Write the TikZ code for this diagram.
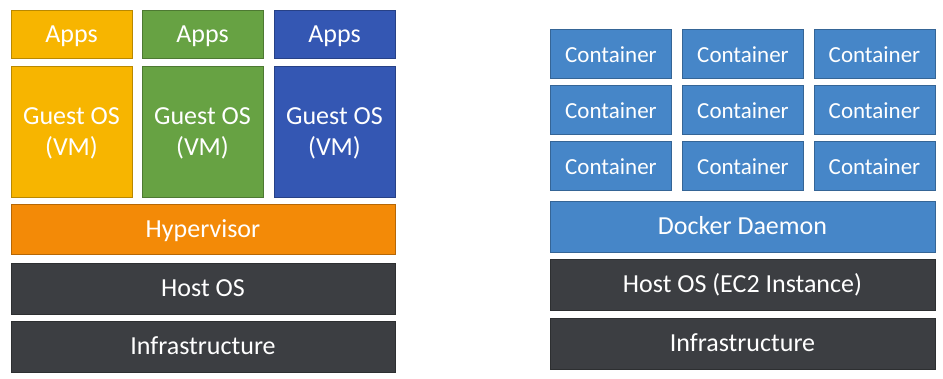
\documentclass[tikz,border=0pt]{standalone}
\usepackage{fontspec}
\setmainfont{Carlito}
\definecolor{cyellow}{HTML}{F7B500}
\definecolor{cgreen}{HTML}{67A243}
\definecolor{cblue}{HTML}{3457B3}
\definecolor{corange}{HTML}{F38A07}
\definecolor{cdark}{HTML}{3C3E42}
\definecolor{ccont}{HTML}{4686C8}
\tikzset{
  x=1pt,y=-1pt,
  blk/.style={draw=#1!75!black, line width=0.7pt, fill=#1, text=white, inner sep=0pt,
    font=\fontsize{26}{31}\selectfont, align=center, text depth=0pt},
  one/.style={text height=16.5pt},
  cont/.style={blk=ccont, one, font=\fontsize{23}{28}\selectfont},
}
\begin{document}
\begin{tikzpicture}
\useasboundingbox[fill=white] (0,0) rectangle (943,378);
% left stack
\node[blk=cyellow, one, minimum width=121, minimum height=48] (apps1) at (71.5,34) {Apps};
\node[blk=cgreen, one, minimum width=121, minimum height=48] (apps2) at (202.5,34) {Apps};
\node[blk=cblue, one, minimum width=121, minimum height=48] (apps3) at (334.5,34) {Apps};
\node[blk=cyellow, minimum width=121, minimum height=131] (vm1) at (71.5,131.5) {Guest OS\\(VM)};
\node[blk=cgreen, minimum width=121, minimum height=131] (vm2) at (202.5,131.5) {Guest OS\\(VM)};
\node[blk=cblue, minimum width=121, minimum height=131] (vm3) at (334.5,131.5) {Guest OS\\(VM)};
\node[blk=corange, one, minimum width=384, minimum height=50] (hyp) at (203,229) {Hypervisor};
\node[blk=cdark, one, minimum width=384, minimum height=51] (hostl) at (203,288.5) {Host OS};
\node[blk=cdark, one, minimum width=384, minimum height=51] (infl) at (203,346.5) {Infrastructure};
% right stack
\foreach \c/\cx in {1/611,2/743,3/874.5}{
  \foreach \r/\cy in {1/54,2/110,3/166}{
    \node[cont, minimum width=121, minimum height=49] (c\c\r) at (\cx,\cy) {Container};
  }
}
\node[blk=ccont, one, minimum width=385, minimum height=51] (dock) at (742.5,226.5) {Docker Daemon};
\node[blk=cdark, one, minimum width=385, minimum height=51] (hostr) at (742.5,284.5) {Host OS (EC2 Instance)};
\node[blk=cdark, one, minimum width=385, minimum height=51] (infr) at (742.5,343.5) {Infrastructure};
\end{tikzpicture}
\end{document}
